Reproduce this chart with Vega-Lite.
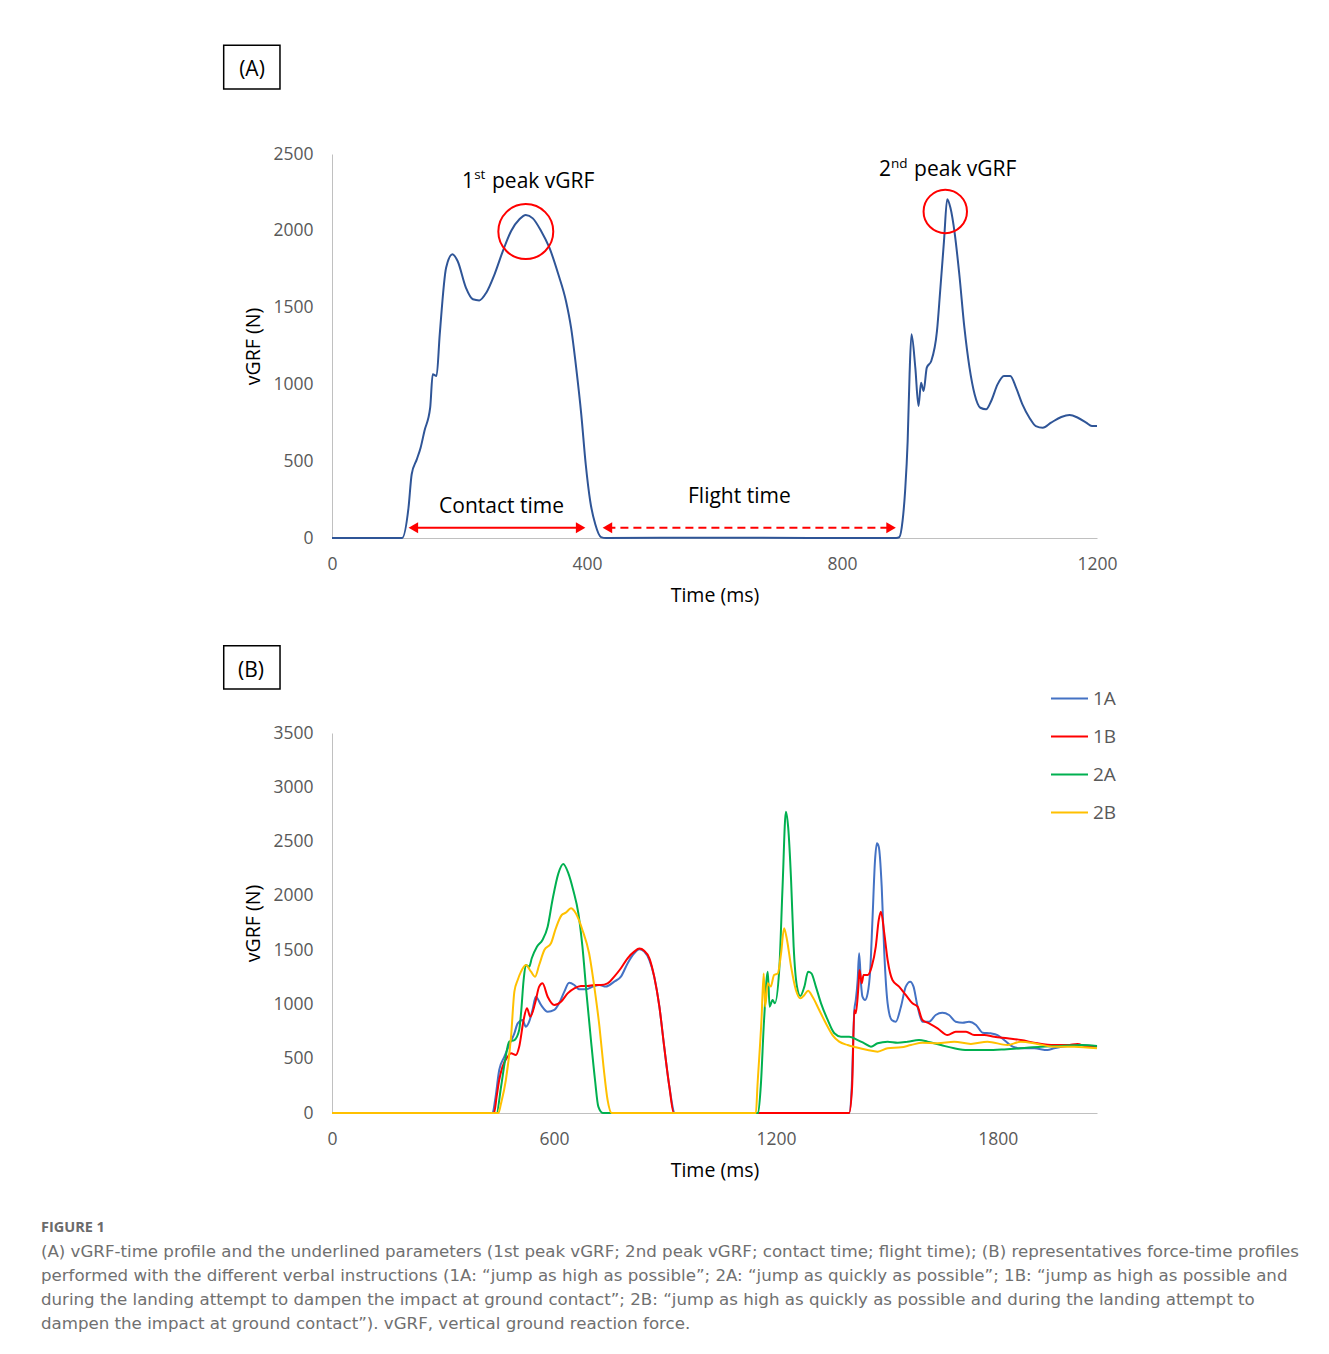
{
  "$schema": "https://vega.github.io/schema/vega-lite/v6.json",
  "background": "white",
  "padding": {"left": 40, "top": 44, "right": 20, "bottom": 20},
  "spacing": 39,
  "title": {
    "text": "FIGURE 1",
    "subtitle": [
      "(A) vGRF-time profile and the underlined parameters (1st peak vGRF; 2nd peak vGRF; contact time; flight time); (B) representatives force-time profiles",
      "performed with the different verbal instructions (1A: “jump as high as possible”; 2A: “jump as quickly as possible”; 1B: “jump as high as possible and",
      "during the landing attempt to dampen the impact at ground contact”; 2B: “jump as high as quickly as possible and during the landing attempt to",
      "dampen the impact at ground contact”). vGRF, vertical ground reaction force."
    ],
    "orient": "bottom",
    "anchor": "start",
    "dx": -182,
    "offset": 41,
    "font": "Open Sans",
    "fontSize": 14.5,
    "fontWeight": "bold",
    "color": "#6b6b6b",
    "subtitleFont": "DejaVu Sans",
    "subtitleFontSize": 16.65,
    "subtitleFontWeight": "normal",
    "subtitleColor": "#707070",
    "subtitleLineHeight": 24,
    "subtitlePadding": 8
  },
  "datasets": {
    "a": [
      {"t": 0, "f": 0}, {"t": 110, "f": 0}, {"t": 120, "f": 197}, {"t": 125, "f": 415}, {"t": 133, "f": 512},
      {"t": 139, "f": 588}, {"t": 145, "f": 697}, {"t": 154, "f": 848}, {"t": 158, "f": 1066}, {"t": 164, "f": 1055},
      {"t": 169, "f": 1326}, {"t": 179, "f": 1760}, {"t": 189, "f": 1847}, {"t": 197, "f": 1803}, {"t": 210, "f": 1630},
      {"t": 221, "f": 1554}, {"t": 231, "f": 1547}, {"t": 242, "f": 1597}, {"t": 255, "f": 1717}, {"t": 268, "f": 1868},
      {"t": 281, "f": 1999}, {"t": 294, "f": 2075}, {"t": 304, "f": 2103}, {"t": 315, "f": 2081}, {"t": 328, "f": 1999},
      {"t": 341, "f": 1890}, {"t": 355, "f": 1717}, {"t": 367, "f": 1543}, {"t": 375, "f": 1369}, {"t": 383, "f": 1109},
      {"t": 391, "f": 805}, {"t": 398, "f": 480}, {"t": 405, "f": 241}, {"t": 413, "f": 89}, {"t": 422, "f": 6},
      {"t": 430, "f": 0}, {"t": 600, "f": 2}, {"t": 750, "f": 0}, {"t": 885, "f": 0}, {"t": 890, "f": 6},
      {"t": 895, "f": 111}, {"t": 899, "f": 306}, {"t": 903, "f": 632}, {"t": 906, "f": 1066}, {"t": 909, "f": 1326},
      {"t": 915, "f": 1109}, {"t": 920, "f": 859}, {"t": 924, "f": 1011}, {"t": 928, "f": 957}, {"t": 933, "f": 1109},
      {"t": 940, "f": 1152}, {"t": 949, "f": 1348}, {"t": 954, "f": 1608}, {"t": 960, "f": 1934}, {"t": 965, "f": 2205},
      {"t": 970, "f": 2151}, {"t": 977, "f": 1977}, {"t": 984, "f": 1717}, {"t": 992, "f": 1369}, {"t": 1000, "f": 1109},
      {"t": 1008, "f": 936}, {"t": 1017, "f": 848}, {"t": 1026, "f": 838}, {"t": 1034, "f": 892}, {"t": 1044, "f": 1000},
      {"t": 1054, "f": 1055}, {"t": 1064, "f": 1055}, {"t": 1073, "f": 979}, {"t": 1083, "f": 870}, {"t": 1094, "f": 783},
      {"t": 1104, "f": 729}, {"t": 1115, "f": 718}, {"t": 1128, "f": 751}, {"t": 1144, "f": 788}, {"t": 1157, "f": 801},
      {"t": 1170, "f": 783}, {"t": 1183, "f": 751}, {"t": 1192, "f": 729}, {"t": 1200, "f": 729}
    ],
    "b": [
      {"s": "1A", "t": 0, "f": 0}, {"s": "1A", "t": 434, "f": 0}, {"s": "1A", "t": 441, "f": 120}, {"s": "1A", "t": 452, "f": 396},
      {"s": "1A", "t": 466, "f": 519}, {"s": "1A", "t": 479, "f": 626}, {"s": "1A", "t": 493, "f": 734}, {"s": "1A", "t": 502, "f": 826},
      {"s": "1A", "t": 515, "f": 857}, {"s": "1A", "t": 524, "f": 795}, {"s": "1A", "t": 533, "f": 841}, {"s": "1A", "t": 542, "f": 949},
      {"s": "1A", "t": 551, "f": 1071}, {"s": "1A", "t": 565, "f": 995}, {"s": "1A", "t": 583, "f": 933}, {"s": "1A", "t": 601, "f": 949},
      {"s": "1A", "t": 614, "f": 1010}, {"s": "1A", "t": 628, "f": 1118}, {"s": "1A", "t": 641, "f": 1200}, {"s": "1A", "t": 655, "f": 1179},
      {"s": "1A", "t": 668, "f": 1139}, {"s": "1A", "t": 686, "f": 1139}, {"s": "1A", "t": 705, "f": 1164}, {"s": "1A", "t": 723, "f": 1179},
      {"s": "1A", "t": 740, "f": 1164}, {"s": "1A", "t": 763, "f": 1210}, {"s": "1A", "t": 781, "f": 1256}, {"s": "1A", "t": 799, "f": 1378},
      {"s": "1A", "t": 817, "f": 1471}, {"s": "1A", "t": 831, "f": 1508}, {"s": "1A", "t": 844, "f": 1486}, {"s": "1A", "t": 858, "f": 1409},
      {"s": "1A", "t": 871, "f": 1256}, {"s": "1A", "t": 885, "f": 979}, {"s": "1A", "t": 898, "f": 611}, {"s": "1A", "t": 912, "f": 242},
      {"s": "1A", "t": 927, "f": 0}, {"s": "1A", "t": 1398, "f": 0}, {"s": "1A", "t": 1405, "f": 242}, {"s": "1A", "t": 1412, "f": 949},
      {"s": "1A", "t": 1416, "f": 1041}, {"s": "1A", "t": 1421, "f": 1225}, {"s": "1A", "t": 1425, "f": 1471}, {"s": "1A", "t": 1430, "f": 1194},
      {"s": "1A", "t": 1434, "f": 1071}, {"s": "1A", "t": 1441, "f": 1041}, {"s": "1A", "t": 1448, "f": 1102}, {"s": "1A", "t": 1455, "f": 1317},
      {"s": "1A", "t": 1461, "f": 1778}, {"s": "1A", "t": 1468, "f": 2330}, {"s": "1A", "t": 1473, "f": 2484}, {"s": "1A", "t": 1478, "f": 2453},
      {"s": "1A", "t": 1486, "f": 2085}, {"s": "1A", "t": 1493, "f": 1471}, {"s": "1A", "t": 1502, "f": 1010}, {"s": "1A", "t": 1513, "f": 857},
      {"s": "1A", "t": 1524, "f": 841}, {"s": "1A", "t": 1538, "f": 979}, {"s": "1A", "t": 1551, "f": 1164}, {"s": "1A", "t": 1563, "f": 1210},
      {"s": "1A", "t": 1572, "f": 1164}, {"s": "1A", "t": 1583, "f": 979}, {"s": "1A", "t": 1596, "f": 841}, {"s": "1A", "t": 1614, "f": 841},
      {"s": "1A", "t": 1632, "f": 903}, {"s": "1A", "t": 1650, "f": 924}, {"s": "1A", "t": 1668, "f": 903}, {"s": "1A", "t": 1686, "f": 841},
      {"s": "1A", "t": 1705, "f": 832}, {"s": "1A", "t": 1722, "f": 841}, {"s": "1A", "t": 1741, "f": 811}, {"s": "1A", "t": 1759, "f": 740},
      {"s": "1A", "t": 1781, "f": 734}, {"s": "1A", "t": 1799, "f": 718}, {"s": "1A", "t": 1817, "f": 672}, {"s": "1A", "t": 1840, "f": 611},
      {"s": "1A", "t": 1862, "f": 596}, {"s": "1A", "t": 1898, "f": 596}, {"s": "1A", "t": 1934, "f": 580}, {"s": "1A", "t": 1952, "f": 596},
      {"s": "1A", "t": 1988, "f": 617}, {"s": "1A", "t": 2024, "f": 626}, {"s": "1A", "t": 2068, "f": 611},

      {"s": "1B", "t": 0, "f": 0}, {"s": "1B", "t": 438, "f": 0}, {"s": "1B", "t": 445, "f": 150}, {"s": "1B", "t": 452, "f": 304},
      {"s": "1B", "t": 461, "f": 427}, {"s": "1B", "t": 475, "f": 519}, {"s": "1B", "t": 484, "f": 550}, {"s": "1B", "t": 497, "f": 535},
      {"s": "1B", "t": 506, "f": 611}, {"s": "1B", "t": 518, "f": 857}, {"s": "1B", "t": 527, "f": 964}, {"s": "1B", "t": 536, "f": 887},
      {"s": "1B", "t": 549, "f": 1010}, {"s": "1B", "t": 560, "f": 1164}, {"s": "1B", "t": 569, "f": 1194}, {"s": "1B", "t": 583, "f": 1071},
      {"s": "1B", "t": 601, "f": 995}, {"s": "1B", "t": 619, "f": 1025}, {"s": "1B", "t": 637, "f": 1102}, {"s": "1B", "t": 655, "f": 1148},
      {"s": "1B", "t": 673, "f": 1170}, {"s": "1B", "t": 691, "f": 1170}, {"s": "1B", "t": 709, "f": 1179}, {"s": "1B", "t": 727, "f": 1179},
      {"s": "1B", "t": 745, "f": 1194}, {"s": "1B", "t": 763, "f": 1256}, {"s": "1B", "t": 781, "f": 1333}, {"s": "1B", "t": 799, "f": 1425},
      {"s": "1B", "t": 817, "f": 1486}, {"s": "1B", "t": 831, "f": 1514}, {"s": "1B", "t": 844, "f": 1495}, {"s": "1B", "t": 858, "f": 1425},
      {"s": "1B", "t": 871, "f": 1256}, {"s": "1B", "t": 885, "f": 979}, {"s": "1B", "t": 898, "f": 611}, {"s": "1B", "t": 912, "f": 242},
      {"s": "1B", "t": 924, "f": 0}, {"s": "1B", "t": 1398, "f": 0}, {"s": "1B", "t": 1406, "f": 242}, {"s": "1B", "t": 1412, "f": 949},
      {"s": "1B", "t": 1416, "f": 918}, {"s": "1B", "t": 1423, "f": 1164}, {"s": "1B", "t": 1426, "f": 1317}, {"s": "1B", "t": 1432, "f": 1194},
      {"s": "1B", "t": 1437, "f": 1271}, {"s": "1B", "t": 1448, "f": 1271}, {"s": "1B", "t": 1459, "f": 1348}, {"s": "1B", "t": 1470, "f": 1532},
      {"s": "1B", "t": 1478, "f": 1778}, {"s": "1B", "t": 1484, "f": 1854}, {"s": "1B", "t": 1493, "f": 1655}, {"s": "1B", "t": 1502, "f": 1409},
      {"s": "1B", "t": 1515, "f": 1225}, {"s": "1B", "t": 1533, "f": 1164}, {"s": "1B", "t": 1551, "f": 1087}, {"s": "1B", "t": 1569, "f": 1010},
      {"s": "1B", "t": 1583, "f": 979}, {"s": "1B", "t": 1596, "f": 857}, {"s": "1B", "t": 1614, "f": 826}, {"s": "1B", "t": 1637, "f": 780},
      {"s": "1B", "t": 1664, "f": 718}, {"s": "1B", "t": 1686, "f": 749}, {"s": "1B", "t": 1714, "f": 749}, {"s": "1B", "t": 1736, "f": 718},
      {"s": "1B", "t": 1763, "f": 718}, {"s": "1B", "t": 1790, "f": 703}, {"s": "1B", "t": 1826, "f": 688}, {"s": "1B", "t": 1862, "f": 672},
      {"s": "1B", "t": 1907, "f": 642}, {"s": "1B", "t": 1952, "f": 626}, {"s": "1B", "t": 1988, "f": 626}, {"s": "1B", "t": 2015, "f": 636},
      {"s": "1B", "t": 2042, "f": 611}, {"s": "1B", "t": 2068, "f": 617},

      {"s": "2A", "t": 0, "f": 0}, {"s": "2A", "t": 445, "f": 0}, {"s": "2A", "t": 457, "f": 242}, {"s": "2A", "t": 468, "f": 488},
      {"s": "2A", "t": 479, "f": 657}, {"s": "2A", "t": 493, "f": 672}, {"s": "2A", "t": 506, "f": 765}, {"s": "2A", "t": 511, "f": 918},
      {"s": "2A", "t": 518, "f": 1225}, {"s": "2A", "t": 524, "f": 1363}, {"s": "2A", "t": 533, "f": 1348}, {"s": "2A", "t": 540, "f": 1425},
      {"s": "2A", "t": 554, "f": 1532}, {"s": "2A", "t": 569, "f": 1594}, {"s": "2A", "t": 583, "f": 1716}, {"s": "2A", "t": 596, "f": 1962},
      {"s": "2A", "t": 612, "f": 2207}, {"s": "2A", "t": 625, "f": 2293}, {"s": "2A", "t": 639, "f": 2207}, {"s": "2A", "t": 652, "f": 2054},
      {"s": "2A", "t": 666, "f": 1839}, {"s": "2A", "t": 677, "f": 1532}, {"s": "2A", "t": 688, "f": 1102}, {"s": "2A", "t": 700, "f": 672},
      {"s": "2A", "t": 711, "f": 304}, {"s": "2A", "t": 720, "f": 58}, {"s": "2A", "t": 732, "f": 0}, {"s": "2A", "t": 1152, "f": 0},
      {"s": "2A", "t": 1159, "f": 242}, {"s": "2A", "t": 1168, "f": 857}, {"s": "2A", "t": 1178, "f": 1302}, {"s": "2A", "t": 1183, "f": 979},
      {"s": "2A", "t": 1191, "f": 1041}, {"s": "2A", "t": 1197, "f": 1010}, {"s": "2A", "t": 1209, "f": 1317}, {"s": "2A", "t": 1218, "f": 2085},
      {"s": "2A", "t": 1227, "f": 2775}, {"s": "2A", "t": 1233, "f": 2637}, {"s": "2A", "t": 1241, "f": 2146}, {"s": "2A", "t": 1248, "f": 1532},
      {"s": "2A", "t": 1257, "f": 1164}, {"s": "2A", "t": 1266, "f": 1078}, {"s": "2A", "t": 1277, "f": 1164}, {"s": "2A", "t": 1287, "f": 1302},
      {"s": "2A", "t": 1296, "f": 1286}, {"s": "2A", "t": 1308, "f": 1164}, {"s": "2A", "t": 1322, "f": 1010}, {"s": "2A", "t": 1340, "f": 857},
      {"s": "2A", "t": 1358, "f": 734}, {"s": "2A", "t": 1376, "f": 703}, {"s": "2A", "t": 1398, "f": 703}, {"s": "2A", "t": 1421, "f": 672},
      {"s": "2A", "t": 1439, "f": 642}, {"s": "2A", "t": 1457, "f": 611}, {"s": "2A", "t": 1475, "f": 642}, {"s": "2A", "t": 1502, "f": 657},
      {"s": "2A", "t": 1529, "f": 648}, {"s": "2A", "t": 1556, "f": 657}, {"s": "2A", "t": 1587, "f": 672}, {"s": "2A", "t": 1610, "f": 657},
      {"s": "2A", "t": 1646, "f": 626}, {"s": "2A", "t": 1682, "f": 596}, {"s": "2A", "t": 1718, "f": 580}, {"s": "2A", "t": 1772, "f": 580},
      {"s": "2A", "t": 1817, "f": 586}, {"s": "2A", "t": 1862, "f": 596}, {"s": "2A", "t": 1916, "f": 611}, {"s": "2A", "t": 1970, "f": 617},
      {"s": "2A", "t": 2024, "f": 626}, {"s": "2A", "t": 2068, "f": 617},

      {"s": "2B", "t": 0, "f": 0}, {"s": "2B", "t": 450, "f": 0}, {"s": "2B", "t": 457, "f": 89}, {"s": "2B", "t": 470, "f": 304},
      {"s": "2B", "t": 484, "f": 703}, {"s": "2B", "t": 493, "f": 1118}, {"s": "2B", "t": 502, "f": 1225}, {"s": "2B", "t": 511, "f": 1302},
      {"s": "2B", "t": 524, "f": 1363}, {"s": "2B", "t": 538, "f": 1302}, {"s": "2B", "t": 549, "f": 1256}, {"s": "2B", "t": 560, "f": 1363},
      {"s": "2B", "t": 574, "f": 1501}, {"s": "2B", "t": 592, "f": 1563}, {"s": "2B", "t": 605, "f": 1701}, {"s": "2B", "t": 621, "f": 1824},
      {"s": "2B", "t": 632, "f": 1845}, {"s": "2B", "t": 646, "f": 1885}, {"s": "2B", "t": 659, "f": 1839}, {"s": "2B", "t": 677, "f": 1686},
      {"s": "2B", "t": 695, "f": 1471}, {"s": "2B", "t": 709, "f": 1164}, {"s": "2B", "t": 723, "f": 795}, {"s": "2B", "t": 734, "f": 427},
      {"s": "2B", "t": 745, "f": 120}, {"s": "2B", "t": 756, "f": 0}, {"s": "2B", "t": 1146, "f": 0}, {"s": "2B", "t": 1150, "f": 242},
      {"s": "2B", "t": 1161, "f": 857}, {"s": "2B", "t": 1167, "f": 1286}, {"s": "2B", "t": 1171, "f": 979}, {"s": "2B", "t": 1178, "f": 1194},
      {"s": "2B", "t": 1186, "f": 1164}, {"s": "2B", "t": 1195, "f": 1271}, {"s": "2B", "t": 1205, "f": 1286}, {"s": "2B", "t": 1214, "f": 1471},
      {"s": "2B", "t": 1222, "f": 1701}, {"s": "2B", "t": 1230, "f": 1594}, {"s": "2B", "t": 1241, "f": 1348}, {"s": "2B", "t": 1254, "f": 1133},
      {"s": "2B", "t": 1266, "f": 1056}, {"s": "2B", "t": 1277, "f": 1087}, {"s": "2B", "t": 1287, "f": 1127}, {"s": "2B", "t": 1299, "f": 1071},
      {"s": "2B", "t": 1317, "f": 949}, {"s": "2B", "t": 1335, "f": 826}, {"s": "2B", "t": 1353, "f": 718}, {"s": "2B", "t": 1371, "f": 657},
      {"s": "2B", "t": 1394, "f": 626}, {"s": "2B", "t": 1416, "f": 605}, {"s": "2B", "t": 1448, "f": 580}, {"s": "2B", "t": 1475, "f": 565},
      {"s": "2B", "t": 1502, "f": 596}, {"s": "2B", "t": 1538, "f": 605}, {"s": "2B", "t": 1565, "f": 626}, {"s": "2B", "t": 1596, "f": 648},
      {"s": "2B", "t": 1637, "f": 642}, {"s": "2B", "t": 1682, "f": 657}, {"s": "2B", "t": 1727, "f": 636}, {"s": "2B", "t": 1772, "f": 657},
      {"s": "2B", "t": 1826, "f": 626}, {"s": "2B", "t": 1862, "f": 657}, {"s": "2B", "t": 1907, "f": 636}, {"s": "2B", "t": 1952, "f": 611},
      {"s": "2B", "t": 2006, "f": 611}, {"s": "2B", "t": 2068, "f": 596}
    ]
  },
  "resolve": {"scale": {"color": "independent"}, "legend": {"color": "independent"}},
  "vconcat": [
    {
      "width": 765,
      "height": 384,
      "layer": [
        {
          "data": {"name": "a"},
          "mark": {"type": "line", "color": "#2F5597", "strokeWidth": 2, "interpolate": "monotone"},
          "encoding": {
            "x": {"field": "t", "type": "quantitative", "scale": {"domain": [0, 1200], "nice": false, "zero": false}, "axis": {"values": [0, 400, 800, 1200], "format": "d", "title": "Time (ms)"}},
            "y": {"field": "f", "type": "quantitative", "scale": {"domain": [0, 2500], "nice": false}, "axis": {"values": [0, 500, 1000, 1500, 2000, 2500], "format": "d", "title": "vGRF (N)"}}
          }
        },
        {
          "data": {"values": [{}]},
          "mark": {"type": "point", "shape": "circle", "filled": false, "stroke": "#FF0000", "strokeWidth": 2, "size": 3019, "opacity": 1},
          "encoding": {"x": {"datum": 304}, "y": {"datum": 1995}}
        },
        {
          "data": {"values": [{}]},
          "mark": {"type": "point", "shape": "circle", "filled": false, "stroke": "#FF0000", "strokeWidth": 2, "size": 1886, "opacity": 1},
          "encoding": {"x": {"datum": 962}, "y": {"datum": 2126}}
        },
        {
          "data": {"values": [{}]},
          "mark": {"type": "rule", "color": "#FF0000", "strokeWidth": 2},
          "encoding": {"x": {"datum": 128}, "x2": {"datum": 390}, "y": {"datum": 67}}
        },
        {
          "data": {"values": [{}]},
          "mark": {"type": "rule", "color": "#FF0000", "strokeWidth": 2, "strokeDash": [8, 5]},
          "encoding": {"x": {"datum": 432}, "x2": {"datum": 872}, "y": {"datum": 67}}
        },
        {
          "data": {"values": [{}]},
          "mark": {"type": "point", "shape": "triangle-left", "filled": true, "color": "#FF0000", "size": 121, "opacity": 1},
          "encoding": {"x": {"datum": 127.6}, "y": {"datum": 67}}
        },
        {
          "data": {"values": [{}]},
          "mark": {"type": "point", "shape": "triangle-right", "filled": true, "color": "#FF0000", "size": 121, "opacity": 1},
          "encoding": {"x": {"datum": 390}, "y": {"datum": 67}}
        },
        {
          "data": {"values": [{}]},
          "mark": {"type": "point", "shape": "triangle-left", "filled": true, "color": "#FF0000", "size": 121, "opacity": 1},
          "encoding": {"x": {"datum": 432}, "y": {"datum": 67}}
        },
        {
          "data": {"values": [{}]},
          "mark": {"type": "point", "shape": "triangle-right", "filled": true, "color": "#FF0000", "size": 121, "opacity": 1},
          "encoding": {"x": {"datum": 877}, "y": {"datum": 67}}
        },
        {
          "data": {"values": [{}]},
          "mark": {"type": "text", "text": "Contact time", "font": "Open Sans", "fontSize": 21, "align": "center", "baseline": "alphabetic", "color": "#000000"},
          "encoding": {"x": {"datum": 266}, "y": {"datum": 161}}
        },
        {
          "data": {"values": [{}]},
          "mark": {"type": "text", "text": "Flight time", "font": "Open Sans", "fontSize": 21, "align": "center", "baseline": "alphabetic", "color": "#000000"},
          "encoding": {"x": {"datum": 639}, "y": {"datum": 226}}
        },
        {
          "data": {"values": [{}]},
          "mark": {"type": "text", "text": "1", "font": "Open Sans", "fontSize": 21, "align": "left", "baseline": "alphabetic", "color": "#000000"},
          "encoding": {"x": {"datum": 204}, "y": {"datum": 2279}}
        },
        {
          "data": {"values": [{}]},
          "mark": {"type": "text", "text": "st", "font": "Open Sans", "fontSize": 13.5, "align": "left", "baseline": "alphabetic", "color": "#000000"},
          "encoding": {"x": {"datum": 223}, "y": {"datum": 2337}}
        },
        {
          "data": {"values": [{}]},
          "mark": {"type": "text", "text": "peak vGRF", "font": "Open Sans", "fontSize": 21, "align": "left", "baseline": "alphabetic", "color": "#000000"},
          "encoding": {"x": {"datum": 251}, "y": {"datum": 2279}}
        },
        {
          "data": {"values": [{}]},
          "mark": {"type": "text", "text": "2", "font": "Open Sans", "fontSize": 21, "align": "left", "baseline": "alphabetic", "color": "#000000"},
          "encoding": {"x": {"datum": 858}, "y": {"datum": 2357}}
        },
        {
          "data": {"values": [{}]},
          "mark": {"type": "text", "text": "nd", "font": "Open Sans", "fontSize": 13.5, "align": "left", "baseline": "alphabetic", "color": "#000000"},
          "encoding": {"x": {"datum": 877}, "y": {"datum": 2409}}
        },
        {
          "data": {"values": [{}]},
          "mark": {"type": "text", "text": "peak vGRF", "font": "Open Sans", "fontSize": 21, "align": "left", "baseline": "alphabetic", "color": "#000000"},
          "encoding": {"x": {"datum": 913}, "y": {"datum": 2357}}
        },
        {
          "data": {"values": [{}]},
          "mark": {"type": "rect", "fill": "#FFFFFF", "stroke": "#000000", "strokeWidth": 1.5},
          "encoding": {"x": {"datum": -169.9}, "x2": {"datum": -81.6}, "y": {"datum": 3208}, "y2": {"datum": 2923}}
        },
        {
          "data": {"values": [{}]},
          "mark": {"type": "text", "text": "(A)", "font": "Open Sans", "fontSize": 21, "align": "center", "baseline": "alphabetic", "color": "#000000"},
          "encoding": {"x": {"datum": -125.5}, "y": {"datum": 3011}}
        }
      ]
    },
    {
      "width": 765,
      "height": 380,
      "layer": [
        {
          "data": {"name": "b"},
          "mark": {"type": "line", "strokeWidth": 2, "interpolate": "monotone"},
          "encoding": {
            "x": {"field": "t", "type": "quantitative", "scale": {"domain": [0, 2068], "nice": false, "zero": false}, "axis": {"values": [0, 600, 1200, 1800], "format": "d", "title": "Time (ms)"}},
            "y": {"field": "f", "type": "quantitative", "scale": {"domain": [0, 3500], "nice": false}, "axis": {"values": [0, 500, 1000, 1500, 2000, 2500, 3000, 3500], "format": "d", "title": "vGRF (N)"}},
            "color": {
              "field": "s", "type": "nominal",
              "scale": {"domain": ["1A", "1B", "2A", "2B"], "range": ["#4472C4", "#FF0000", "#00B050", "#FFC000"]},
              "legend": {
                "title": null, "orient": "none", "legendX": 718, "legendY": -54,
                "symbolType": "stroke", "symbolSize": 1369, "symbolStrokeWidth": 2,
                "labelFont": "Open Sans", "labelFontSize": 19, "labelColor": "#595959", "labelOffset": 4,
                "rowPadding": 8, "padding": 0
              }
            }
          }
        },
        {
          "data": {"values": [{}]},
          "mark": {"type": "rect", "fill": "#FFFFFF", "stroke": "#000000", "strokeWidth": 1.5},
          "encoding": {"x": {"datum": -292.7}, "x2": {"datum": -140.5}, "y": {"datum": 4304}, "y2": {"datum": 3905}}
        },
        {
          "data": {"values": [{}]},
          "mark": {"type": "text", "text": "(B)", "font": "Open Sans", "fontSize": 21, "align": "center", "baseline": "alphabetic", "color": "#000000"},
          "encoding": {"x": {"datum": -219}, "y": {"datum": 4019}}
        }
      ]
    }
  ],
  "config": {
    "view": {"stroke": null},
    "axis": {
      "grid": false,
      "ticks": false,
      "domainColor": "#C0C0C0",
      "domainWidth": 1,
      "labelFont": "Open Sans",
      "labelFontSize": 17.5,
      "labelColor": "#595959",
      "labelPadding": 19,
      "titleFont": "Open Sans",
      "titleFontSize": 19.5,
      "titleFontWeight": "normal",
      "titleColor": "#000000"
    },
    "axisX": {"titlePadding": 14, "labelPadding": 17, "labelFlush": false},
    "axisY": {"titlePadding": 9}
  }
}
